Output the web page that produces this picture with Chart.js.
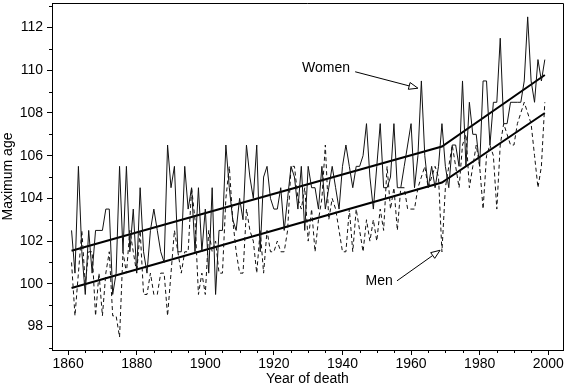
<!DOCTYPE html>
<html><head><meta charset="utf-8">
<script src="https://cdn.jsdelivr.net/npm/chart.js@4.4.0/dist/chart.umd.min.js"></script>
<style>html,body{margin:0;padding:0;background:#fff}#wrap{width:566px;height:389px}</style>
</head><body><div id="wrap"><canvas id="c" width="566" height="389"></canvas></div>
<script>
const startYear = 1861;
const women = [
  102.5, 100.5, 105.5, 101.5, 99.5, 102.5, 100.5, 102.5, 102.5, 102.5,
  103.5, 103.5, 99.5, 100.5, 105.5, 101.5, 105.5, 101.5, 103.5, 100.5,
  104.5, 101.5, 100.5, 102.5, 103.5, 102.5, 101.5, 101, 106.5, 104.5,
  105.5, 101.5, 101.5, 105.5, 103.5, 104.5, 101.5, 104.5, 101.5, 103.5,
  100.5, 104.5, 99.5, 102.5, 102.5, 106.5, 104.5, 103, 102.5, 104,
  103, 106.5, 105, 104, 106.5, 101.5, 105, 105.5, 104, 103.5,
  103.5, 104.5, 102.5, 104, 105.5, 105, 103.5, 105.5, 102.5, 105.5,
  104.5, 104.5, 103.5, 105.5, 103.5, 104.5, 105.5, 104.5, 103.5, 105.5,
  106.5, 105.5, 104.5, 105.5, 105.5, 106, 107.5, 105, 103.5, 105.5,
  107.5, 104.5, 104.5, 105, 107.5, 104.5, 104.5, 105.5, 106.5, 107.5,
  104.5, 106, 109.5, 106, 104.5, 105.5, 104.5, 105.5, 107.5, 105.5,
  104.5, 106.5, 106.5, 105.5, 109.5, 105.5, 108.5, 107, 107, 105.5,
  109.5, 109.5, 106.5, 108.5, 108.5, 111.5, 107.5, 107.5, 108.5, 108.5,
  108.5, 108.5, 109.5, 112.5, 109.5, 108.5, 110.5, 109.5, 110.5
];
const men = [
  101, 98.5, 100.5, 102.5, 100, 101.5, 101.5, 98.5, 100.5, 98.5,
  100.5, 101.5, 98.5, 98.5, 97.5, 101.5, 100.5, 102.5, 101.5, 100.5,
  102.5, 99.5, 99.5, 100.5, 99.5, 99.5, 100.5, 100.5, 98.5, 100.5,
  102.5, 101.5, 100.5, 101.5, 101.5, 104.5, 103, 99.5, 100.5, 99.5,
  102.5, 101.5, 102, 100.5, 100.5, 104, 105.5, 103, 101.5, 100.5,
  100.5, 103.5, 102.5, 102, 100.5, 102.5, 100.5, 102.5, 101.5, 101.5,
  102, 101.5, 101.5, 102.5, 105.5, 105.5, 104, 103.5, 104.5, 102,
  103.5, 101.5, 103, 104, 106.5, 103, 104, 103.5, 102.5, 101.5,
  101.5, 103.5, 101.5, 103.5, 102.5, 101.5, 103, 102, 103, 102,
  103.5, 102.5, 105.5, 103.5, 104.5, 102.5, 104.5, 104.5, 103.5, 103.5,
  103.5, 104.5, 105, 105.5, 104.5, 105, 105.5, 105, 101.5, 104.5,
  105.5, 106.5, 105.5, 104.5, 106.5, 107, 104.5, 105.5, 106.5, 105.5,
  103.5, 106, 106.5, 106, 103.5, 106.5, 107.5, 107, 106.5, 106.5,
  107.5, 108, 108.5, 108, 107.5, 106, 104.5, 105.5, 108.5
];
const trendYears = [1861, 1969, 1999];
const womenTrend = [101.55, 106.43, 109.78];
const menTrend = [99.8, 104.74, 108.0];
const xMajorTicks = [1860, 1880, 1900, 1920, 1940, 1960, 1980, 2000];
const yMajorTicks = [98, 100, 102, 104, 106, 108, 110, 112];
const xMinorStep = 5, yMinorStep = 1;

const toXY = (vals) => vals.map((v, i) => ({x: startYear + i, y: v}));
const toTrend = (vals) => vals.map((v, i) => ({x: trendYears[i], y: v}));

const FONT = "'Liberation Sans', Arial, Helvetica, sans-serif";

const decor = {
  id: 'decor',
  afterDraw(chart) {
    const {ctx, chartArea: a, scales: {x, y}} = chart;
    ctx.save();
    ctx.strokeStyle = '#000';
    ctx.lineWidth = 1;
    ctx.beginPath();
    ctx.moveTo(a.left, a.top + 0.5); ctx.lineTo(a.right + 0.5, a.top + 0.5);
    ctx.lineTo(a.right + 0.5, a.bottom);
    ctx.stroke();
    ctx.beginPath();
    for (let v = 1860; v <= 2000; v += xMinorStep) {
      if (xMajorTicks.includes(v)) continue;
      const px = Math.round(x.getPixelForValue(v)) + 0.5;
      ctx.moveTo(px, a.bottom); ctx.lineTo(px, a.bottom + 3);
    }
    for (let v = 97; v <= 113; v += yMinorStep) {
      if (yMajorTicks.includes(v)) continue;
      const py = Math.round(y.getPixelForValue(v)) + 0.5;
      ctx.moveTo(a.left, py); ctx.lineTo(a.left - 3, py);
    }
    ctx.stroke();
    ctx.fillStyle = '#000';
    ctx.font = '14px ' + FONT;
    ctx.textAlign = 'center'; ctx.textBaseline = 'middle';
    ctx.fillText('Women', x.getPixelForValue(1935.2), y.getPixelForValue(110.1));
    ctx.fillText('Men', x.getPixelForValue(1950.7), y.getPixelForValue(100.14));
    const arrow = (x1, y1, x2, y2) => {
      const X1 = x.getPixelForValue(x1), Y1 = y.getPixelForValue(y1);
      const X2 = x.getPixelForValue(x2), Y2 = y.getPixelForValue(y2);
      const ang = Math.atan2(Y2 - Y1, X2 - X1);
      const L = 9, W = 3.5;
      const bx = X2 - L * Math.cos(ang), by = Y2 - L * Math.sin(ang);
      ctx.beginPath();
      ctx.moveTo(X1, Y1); ctx.lineTo(bx, by); ctx.stroke();
      ctx.beginPath();
      ctx.moveTo(X2, Y2);
      ctx.lineTo(bx + W * Math.sin(ang), by - W * Math.cos(ang));
      ctx.lineTo(bx - W * Math.sin(ang), by + W * Math.cos(ang));
      ctx.closePath();
      ctx.fillStyle = '#fff'; ctx.fill(); ctx.stroke();
    };
    arrow(1943.7, 109.93, 1962.0, 109.16);
    arrow(1955.9, 100.14, 1968.45, 101.57);
    ctx.restore();
  }
};

new Chart(document.getElementById('c'), {
  type: 'line',
  data: {
    datasets: [
      {label: 'Women', data: toXY(women), borderColor: '#111', borderWidth: 1, pointRadius: 0, tension: 0},
      {label: 'Men', data: toXY(men), borderColor: '#111', borderWidth: 1, borderDash: [4, 3], pointRadius: 0, tension: 0},
      {label: 'Women trend', data: toTrend(womenTrend), borderColor: '#000', borderWidth: 2, pointRadius: 0, tension: 0},
      {label: 'Men trend', data: toTrend(menTrend), borderColor: '#000', borderWidth: 2, pointRadius: 0, tension: 0}
    ]
  },
  options: {
    responsive: false,
    animation: false,
    devicePixelRatio: 1,
    layout: {padding: {left: 0, right: 3, top: 3, bottom: 0}},
    plugins: {legend: {display: false}, tooltip: {enabled: false}},
    scales: {
      x: {
        type: 'linear', min: 1855.3, max: 2004.3,
        afterBuildTicks: s => { s.ticks = xMajorTicks.map(v => ({value: v})); },
        afterFit: s => { s.height = 39; s.paddingLeft = 0; s.paddingRight = 0; },
        grid: {display: true, drawOnChartArea: false, drawTicks: true, tickLength: 5, color: '#000'},
        border: {display: true, color: '#000', width: 1},
        ticks: {color: '#000', font: {family: FONT, size: 14}, padding: 1, maxRotation: 0, autoSkip: false,
                callback: v => String(v)},
        title: {display: true, text: 'Year of death', color: '#000', font: {family: FONT, size: 14}, padding: {top: 0, bottom: 1}}
      },
      y: {
        type: 'linear', min: 96.9, max: 113.15,
        afterBuildTicks: s => { s.ticks = yMajorTicks.map(v => ({value: v})); },
        afterFit: s => { s.width = 52; s.paddingTop = 0; s.paddingBottom = 0; },
        grid: {display: true, drawOnChartArea: false, drawTicks: true, tickLength: 5, color: '#000'},
        border: {display: true, color: '#000', width: 1},
        ticks: {color: '#000', font: {family: FONT, size: 14}, padding: 4, autoSkip: false,
                callback: v => String(v)},
        title: {display: true, text: 'Maximum age', color: '#000', font: {family: FONT, size: 14}, padding: {top: 0, bottom: 0}}
      }
    }
  },
  plugins: [decor]
});
</script>
</body></html>
